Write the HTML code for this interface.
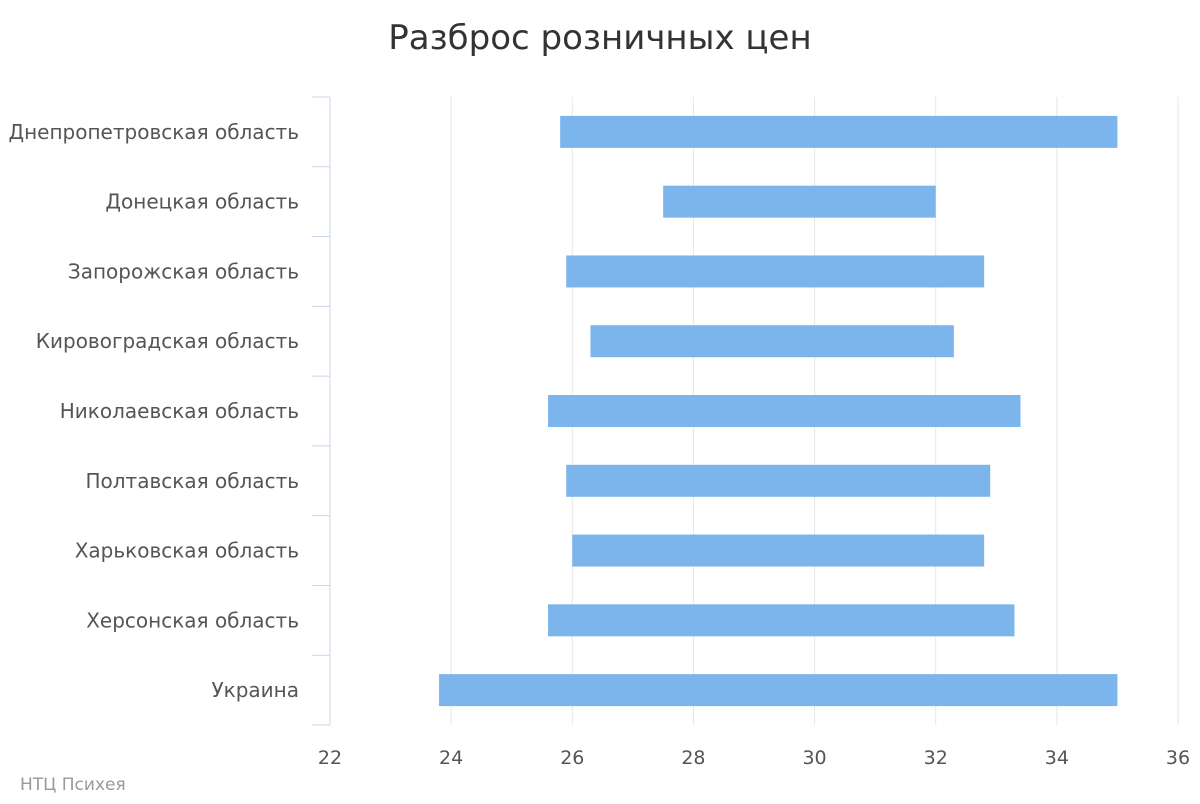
<!DOCTYPE html>
<html><head><meta charset="utf-8">
<style>
html,body{margin:0;padding:0;background:#fff;}
body{width:1200px;height:800px;overflow:hidden;font-family:"DejaVu Sans","Liberation Sans",sans-serif;}
</style></head>
<body>
<svg id="chart" width="1200" height="800" xmlns="http://www.w3.org/2000/svg">
<text x="600" y="49" text-anchor="middle" font-size="34" fill="#333" font-family="DejaVu Sans, Liberation Sans, sans-serif">Разброс розничных цен</text>
<g id="grid"></g>
<g id="bars"></g>
<g id="yaxis"></g>
<g id="xaxis"></g>
<text x="20" y="790" font-size="17" fill="#999">НТЦ Психея</text>
</svg>
<script>
const categories=["Днепропетровская область","Донецкая область","Запорожская область","Кировоградская область","Николаевская область","Полтавская область","Харьковская область","Херсонская область","Украина"];
const lowValues=[25.8,27.5,25.9,26.3,25.6,25.9,26.0,25.6,23.8];
const highValues=[35.0,32.0,32.8,32.3,33.4,32.9,32.8,33.3,35.0];
const xTicks=[22,24,26,28,30,32,34,36];

const NS="http://www.w3.org/2000/svg";
const plotLeft=330,plotRight=1178,plotTop=97,plotBottom=725,xMin=22,xMax=36;
const xs=v=>plotLeft+(v-xMin)/(xMax-xMin)*(plotRight-plotLeft);
const band=(plotBottom-plotTop)/categories.length;
function mk(tag,attrs,parent){const e=document.createElementNS(NS,tag);for(const k in attrs)e.setAttribute(k,attrs[k]);parent.appendChild(e);return e;}
const grid=document.getElementById('grid'),bars=document.getElementById('bars'),ya=document.getElementById('yaxis'),xa=document.getElementById('xaxis');

xTicks.forEach(t=>{
  const x=xs(t);
  if(t!==xMin){const g=mk('line',{x1:x,x2:x,y1:plotTop,y2:plotBottom,stroke:'#e6e6e6','stroke-width':1},grid);
  
  }
  const l=mk('text',{x:x,y:764,'text-anchor':'middle','font-size':19,fill:'#555'},xa);
  l.textContent=t;
  
  
});

const axl=mk('line',{x1:plotLeft,x2:plotLeft,y1:plotTop,y2:plotBottom,stroke:'#ccd6eb','stroke-width':1},ya);


for(let i=0;i<=categories.length;i++){
  const y=plotTop+i*band;
  const tk=mk('line',{x1:plotLeft-18,x2:plotLeft,y1:y,y2:y,stroke:'#ccd6eb','stroke-width':1},ya);
  
  
}
categories.forEach((c,i)=>{
  const cy=plotTop+(i+0.5)*band;
  const t=mk('text',{x:299,y:cy+7,'text-anchor':'end','font-size':20,fill:'#555'},ya);
  t.textContent=c;
  
  
  const x1=xs(lowValues[i]),x2=xs(highValues[i]);
  const r=mk('rect',{x:x1,y:cy-16,width:x2-x1,height:32,fill:'#7cb5ec'},bars);
  
  
});
</script>
</body></html>
